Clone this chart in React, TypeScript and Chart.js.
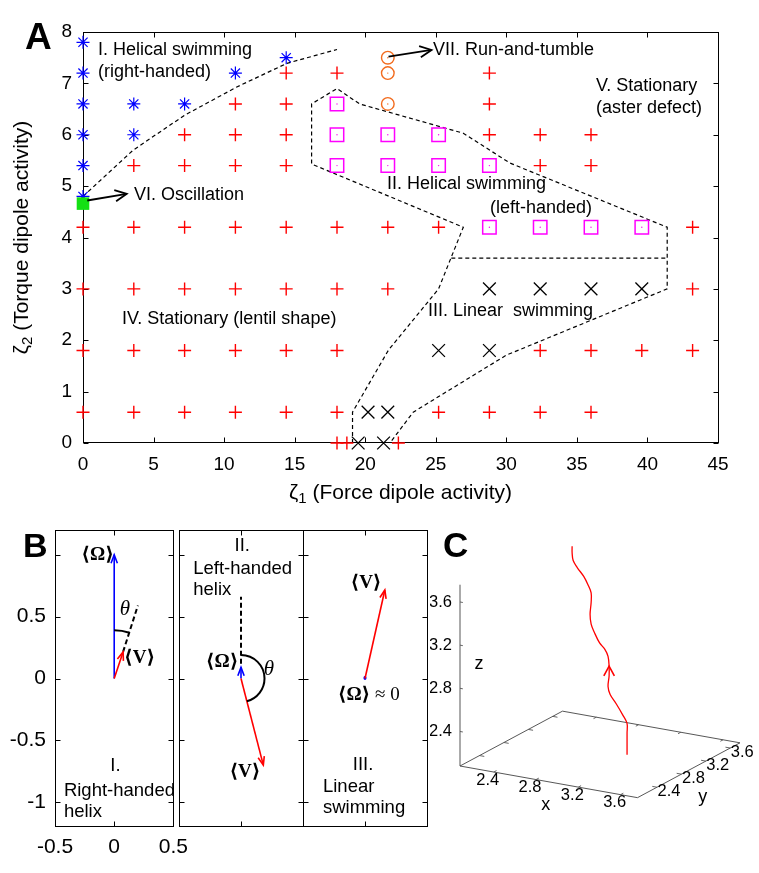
import React, { useEffect, useRef } from 'react';
import { Chart, registerables } from 'chart.js';

Chart.register(...registerables);

type Pt = [number, number];

const SANS = '"Liberation Sans", Arial, Helvetica, sans-serif';
const SERIF = '"Liberation Serif", "DejaVu Serif", "Times New Roman", serif';

/* ---------- A: phase diagram over force (ζ1) and torque (ζ2) dipole activity ---------- */
const zeta1Ticks = [0, 5, 10, 15, 20, 25, 30, 35, 40, 45];
const zeta2Ticks = [0, 1, 2, 3, 4, 5, 6, 7, 8];

// I. helical swimming (right-handed)
const helicalRightPts: Pt[] = [
  [0, 7.8], [0, 7.2], [0, 6.6], [0, 6.0], [0, 5.4], [0, 4.8],
  [3.6, 6.6], [3.6, 6.0], [7.2, 6.6], [10.8, 7.2], [14.4, 7.5],
];
// II. helical swimming (left-handed)
const helicalLeftPts: Pt[] = [
  [18, 6.6], [18, 6.0], [21.6, 6.0], [25.2, 6.0],
  [18, 5.4], [21.6, 5.4], [25.2, 5.4], [28.8, 5.4],
  [28.8, 4.2], [32.4, 4.2], [36, 4.2], [39.6, 4.2],
];
// III. linear swimming
const linearPts: Pt[] = [
  [28.8, 3.0], [32.4, 3.0], [36, 3.0], [39.6, 3.0],
  [25.2, 1.8], [28.8, 1.8], [20.2, 0.6], [21.6, 0.6], [19.5, 0], [21.3, 0],
];
// IV / V. stationary states
const stationaryPts: Pt[] = [
  [14.4, 7.2], [18, 7.2], [28.8, 7.2],
  [10.8, 6.6], [14.4, 6.6], [28.8, 6.6],
  [7.2, 6.0], [10.8, 6.0], [14.4, 6.0], [28.8, 6.0], [32.4, 6.0], [36, 6.0],
  [3.6, 5.4], [7.2, 5.4], [10.8, 5.4], [14.4, 5.4], [32.4, 5.4], [36, 5.4],
  [0, 4.2], [3.6, 4.2], [7.2, 4.2], [10.8, 4.2], [14.4, 4.2], [18, 4.2], [21.6, 4.2], [25.2, 4.2], [43.2, 4.2],
  [0, 3.0], [3.6, 3.0], [7.2, 3.0], [10.8, 3.0], [14.4, 3.0], [18, 3.0], [21.6, 3.0], [43.2, 3.0],
  [0, 1.8], [3.6, 1.8], [7.2, 1.8], [10.8, 1.8], [14.4, 1.8], [18, 1.8], [32.4, 1.8], [36, 1.8], [39.6, 1.8], [43.2, 1.8],
  [0, 0.6], [3.6, 0.6], [7.2, 0.6], [10.8, 0.6], [14.4, 0.6], [18, 0.6], [25.2, 0.6], [28.8, 0.6], [32.4, 0.6], [36, 0.6],
  [18, 0], [18.7, 0], [22.35, 0],
];
// VI. oscillation
const oscillationPts: Pt[] = [[0, 4.66]];
// VII. run-and-tumble
const runTumblePts: Pt[] = [[21.6, 7.5], [21.6, 7.2], [21.6, 6.6]];

// phase boundaries
const boundaryHelicalRight: Pt[] = [
  [0, 4.8], [3.55, 5.7], [7.2, 6.38], [10.9, 6.93], [14.45, 7.39], [18, 7.66],
];
const boundaryHelicalLeftLinear: Pt[] = [
  [19.1, 0], [19.1, 0.6], [21.65, 1.81], [25.2, 3.0], [26.95, 4.2], [16.2, 5.43], [16.2, 6.6],
  [18, 6.9], [19.6, 6.6], [26.95, 6.03], [30.25, 5.45], [41.4, 4.2], [41.4, 3.0],
  [30.0, 1.71], [23.4, 0.6], [21.75, 0],
];
const boundaryLeftVsLinear: Pt[] = [[26.1, 3.6], [41.4, 3.6]];

const phaseLabels = [
  { text: 'I. Helical swimming', x: 1.06, y: 7.65 },
  { text: '(right-handed)', x: 1.06, y: 7.22 },
  { text: 'VI. Oscillation', x: 3.61, y: 4.83 },
  { text: 'VII. Run-and-tumble', x: 24.8, y: 7.65 },
  { text: 'V. Stationary', x: 36.35, y: 6.95 },
  { text: '(aster defect)', x: 36.35, y: 6.52 },
  { text: 'II. Helical swimming', x: 21.54, y: 5.04 },
  { text: '(left-handed)', x: 28.84, y: 4.57 },
  { text: 'IV. Stationary (lentil shape)', x: 2.76, y: 2.41 },
  { text: 'III. Linear  swimming', x: 24.45, y: 2.57 },
];
const phaseArrows: { from: Pt; to: Pt }[] = [
  { from: [0.3, 4.72], to: [3.1, 4.85] },
  { from: [21.65, 7.52], to: [24.7, 7.65] },
];

/* ---------- B: mean angular velocity ⟨Ω⟩ and mean velocity ⟨V⟩ ---------- */
const modeTicksX = [-0.5, 0, 0.5];
const modeTicksY = [-1, -0.5, 0, 0.5, 1];

// I. right-handed helix
const omegaRH: Pt = [0, 1.0];
const velRH: Pt = [0.075, 0.215];
const guideRH: Pt[] = [[0.075, 0.215], [0.2, 0.59]];
const thetaRadiusRH = 0.39;
// II. left-handed helix
const omegaLH: Pt = [0, 0.09];
const velLH: Pt = [0.18, -0.7];
const guideLH: Pt[] = [[0, 0.12], [0, 0.66]];
const thetaRadiusLH = 0.19;
// III. linear swimming
const omegaLin: Pt = [0, 0.008];
const velLin: Pt = [0.16, 0.715];

/* ---------- C: swimmer trajectory in 3D ---------- */
const boxRange: Pt = [2.08, 3.76];
const xyzTicks = [2.4, 2.8, 3.2, 3.6];
const trajX = [3.13, 3.13, 3.13, 3.13, 3.09, 3.03, 2.97, 2.95, 2.96, 2.96, 2.95, 2.92, 2.87, 2.82, 2.79, 2.78, 2.79, 2.79, 2.76, 2.72, 2.66, 2.62, 2.61, 2.61];
const trajY = [3.0, 3.0, 3.0, 3.0, 3.0, 3.0, 3.0, 3.0, 3.0, 3.0, 3.0, 3.0, 3.0, 3.0, 3.0, 3.0, 3.0, 3.0, 3.0, 3.0, 3.0, 3.0, 3.0, 3.0];
const trajZ = [2.09, 2.2, 2.29, 2.38, 2.45, 2.54, 2.62, 2.69, 2.79, 2.88, 2.97, 3.03, 3.08, 3.17, 3.24, 3.33, 3.44, 3.53, 3.6, 3.67, 3.74, 3.8, 3.87, 3.93];
const trajArrowAt = 9;

// orthographic camera for panel C
const VIEW = { az: 30, el: 18, scale: 122, zStretch: 0.93 };
function project(x: number, y: number, z: number) {
  const a = (VIEW.az * Math.PI) / 180;
  const e = (VIEW.el * Math.PI) / 180;
  const s = VIEW.scale;
  const dx = x - boxRange[0], dy = y - boxRange[0], dz = z - boxRange[0];
  return {
    x: s * (Math.cos(a) * dx + Math.sin(a) * dy),
    y: s * (-Math.sin(a) * Math.sin(e) * dx + Math.cos(a) * Math.sin(e) * dy + VIEW.zStretch * Math.cos(e) * dz),
  };
}

/* ---------- helpers ---------- */
const toXY = (pts: Pt[]) => pts.map(([x, y]) => ({ x, y }));

function drawHead(ctx: CanvasRenderingContext2D, x0: number, y0: number, x1: number, y1: number, len: number, spread: number) {
  const a = Math.atan2(y1 - y0, x1 - x0);
  ctx.beginPath();
  ctx.moveTo(x1 - len * Math.cos(a - spread), y1 - len * Math.sin(a - spread));
  ctx.lineTo(x1, y1);
  ctx.lineTo(x1 - len * Math.cos(a + spread), y1 - len * Math.sin(a + spread));
  ctx.stroke();
}

type Run = { t: string; f: string };
function drawRuns(ctx: CanvasRenderingContext2D, runs: Run[], x: number, y: number, align: 'left' | 'center') {
  const widths = runs.map((r) => {
    ctx.font = r.f;
    return ctx.measureText(r.t).width;
  });
  const total = widths.reduce((s, w) => s + w, 0);
  let cx = align === 'center' ? x - total / 2 : x;
  ctx.textAlign = 'left';
  ctx.textBaseline = 'middle';
  runs.forEach((r, i) => {
    ctx.font = r.f;
    ctx.fillText(r.t, cx, y);
    cx += widths[i];
  });
}

function drawSubscripted(ctx: CanvasRenderingContext2D, base: string, sub: string, rest: string, size: number) {
  const main = `${size}px ${SANS}`;
  const small = `${Math.round(size * 0.7)}px ${SANS}`;
  ctx.font = main;
  const w1 = ctx.measureText(base).width;
  const w3 = ctx.measureText(rest).width;
  ctx.font = small;
  const w2 = ctx.measureText(sub).width;
  let x = -(w1 + w2 + w3) / 2;
  ctx.textAlign = 'left';
  ctx.textBaseline = 'middle';
  ctx.font = main;
  ctx.fillText(base, x, 0);
  x += w1;
  ctx.font = small;
  ctx.fillText(sub, x, size * 0.3);
  x += w2;
  ctx.font = main;
  ctx.fillText(rest, x, 0);
}

// box with inward ticks on all four sides
function frameTicks(xTicks: number[], yTicks: number[], len: number) {
  return {
    id: 'frameTicks',
    beforeDatasetsDraw(chart: any) {
      const { ctx, chartArea: a } = chart;
      const sx = chart.scales.x, sy = chart.scales.y;
      const L = Math.round(a.left) + 0.5, R = Math.round(a.right) + 0.5;
      const T = Math.round(a.top) + 0.5, B = Math.round(a.bottom) - 0.5;
      ctx.save();
      ctx.strokeStyle = '#000';
      ctx.lineWidth = 1;
      ctx.strokeRect(L, T, R - L, B - T);
      ctx.beginPath();
      for (const v of xTicks) {
        const px = Math.round(sx.getPixelForValue(v)) + 0.5;
        ctx.moveTo(px, B); ctx.lineTo(px, B - len);
        ctx.moveTo(px, T); ctx.lineTo(px, T + len);
      }
      for (const v of yTicks) {
        const py = Math.round(sy.getPixelForValue(v)) + 0.5;
        ctx.moveTo(L, py); ctx.lineTo(L + len, py);
        ctx.moveTo(R, py); ctx.lineTo(R - len, py);
      }
      ctx.stroke();
      ctx.restore();
    },
  };
}

const baseOptions = {
  responsive: false,
  maintainAspectRatio: false,
  animation: false as const,
  events: [] as any[],
  plugins: { legend: { display: false }, tooltip: { enabled: false } },
};

/* ---------- A chart ---------- */
function buildPhaseChart() {
  const markers = (pts: Pt[], style: string, radius: number, color: string, width: number, fill = 'rgba(0,0,0,0)') => ({
    data: toXY(pts),
    showLine: false,
    clip: false as const,
    pointStyle: style,
    pointRadius: radius,
    pointHoverRadius: radius,
    pointBorderColor: color,
    pointBackgroundColor: fill,
    pointBorderWidth: width,
  });
  const dots = (pts: Pt[], color: string) => markers(pts, 'circle', 0.7, color, 0, color);
  const dashed = (pts: Pt[]) => ({
    data: toXY(pts),
    showLine: true,
    clip: false as const,
    borderColor: '#000',
    borderWidth: 1.2,
    borderDash: [4, 3],
    pointRadius: 0,
    tension: 0,
  });

  const annotations = {
    id: 'phaseAnnotations',
    afterDatasetsDraw(chart: any) {
      const { ctx, chartArea: a } = chart;
      const sx = chart.scales.x, sy = chart.scales.y;
      ctx.save();
      ctx.fillStyle = '#000';
      ctx.font = `18px ${SANS}`;
      ctx.textAlign = 'left';
      ctx.textBaseline = 'middle';
      for (const l of phaseLabels) ctx.fillText(l.text, sx.getPixelForValue(l.x), sy.getPixelForValue(l.y));

      ctx.strokeStyle = '#000';
      ctx.lineWidth = 1.8;
      for (const ar of phaseArrows) {
        const x0 = sx.getPixelForValue(ar.from[0]), y0 = sy.getPixelForValue(ar.from[1]);
        const x1 = sx.getPixelForValue(ar.to[0]), y1 = sy.getPixelForValue(ar.to[1]);
        ctx.beginPath();
        ctx.moveTo(x0, y0);
        ctx.lineTo(x1, y1);
        ctx.stroke();
        drawHead(ctx, x0, y0, x1, y1, 13, 0.45);
      }

      ctx.save();
      ctx.translate((a.left + a.right) / 2, a.bottom + 50);
      drawSubscripted(ctx, 'ζ', '1', ' (Force dipole activity)', 21);
      ctx.restore();
      ctx.save();
      ctx.translate(22, (a.top + a.bottom) / 2);
      ctx.rotate(-Math.PI / 2);
      drawSubscripted(ctx, 'ζ', '2', ' (Torque dipole activity)', 21);
      ctx.restore();
      ctx.restore();
    },
  };

  return {
    type: 'scatter',
    data: {
      datasets: [
        markers(oscillationPts, 'rect', 8.9, '#14e014', 0, '#14e014'),
        markers(stationaryPts, 'cross', 6.5, '#ff0000', 1.4),
        markers(helicalRightPts, 'star', 6.5, '#0000ff', 1.2),
        markers(helicalLeftPts, 'rect', 9.5, '#ff00ff', 1.5),
        dots(helicalLeftPts, '#ff00ff'),
        markers(runTumblePts, 'circle', 6.3, '#f26b1d', 1.4),
        dots(runTumblePts, '#f26b1d'),
        markers(linearPts, 'crossRot', 9, '#000000', 1.3),
        dashed(boundaryHelicalRight),
        dashed(boundaryHelicalLeftLinear),
        dashed(boundaryLeftVsLinear),
      ],
    },
    options: {
      ...baseOptions,
      layout: { padding: { left: 0, right: 41, top: 32, bottom: 0 } },
      scales: {
        x: {
          type: 'linear',
          min: 0,
          max: 45,
          afterBuildTicks: (s: any) => { s.ticks = zeta1Ticks.map((value) => ({ value })); },
          afterFit: (s: any) => { s.height = 67; },
          grid: { display: false, drawTicks: false },
          border: { display: false },
          ticks: { font: { family: SANS, size: 19 }, color: '#000', padding: 10, maxRotation: 0, autoSkip: false },
        },
        y: {
          type: 'linear',
          min: 0,
          max: 8,
          afterBuildTicks: (s: any) => { s.ticks = zeta2Ticks.map((value) => ({ value })); },
          afterFit: (s: any) => { s.width = 83; },
          grid: { display: false, drawTicks: false },
          border: { display: false },
          ticks: { font: { family: SANS, size: 19 }, color: '#000', padding: 11, autoSkip: false },
        },
      },
    },
    plugins: [frameTicks(zeta1Ticks, zeta2Ticks, 5), annotations],
  };
}

/* ---------- B charts ---------- */
const LABEL_FONT = `18.5px ${SANS}`;
const VEC_FONT = `bold 19px ${SERIF}`;
const THETA_FONT = `italic 21px ${SERIF}`;
const PLAIN_SERIF = `19px ${SERIF}`;

type PanelText = { runs: Run[]; x: number; y: number; align: 'left' | 'center' };
type ModePanel = {
  omega: Pt;
  vel: Pt;
  guide?: Pt[];
  thetaRadius?: number;
  omegaArrow: boolean;
  texts: PanelText[];
};

const modePanels: ModePanel[] = [
  {
    omega: omegaRH, vel: velRH, guide: guideRH, thetaRadius: thetaRadiusRH, omegaArrow: true,
    texts: [
      { runs: [{ t: '⟨Ω⟩', f: VEC_FONT }], x: -0.14, y: 1.0, align: 'center' },
      { runs: [{ t: '⟨V⟩', f: VEC_FONT }], x: 0.215, y: 0.165, align: 'center' },
      { runs: [{ t: 'θ', f: THETA_FONT }], x: 0.09, y: 0.56, align: 'center' },
      { runs: [{ t: 'I.', f: LABEL_FONT }], x: 0.01, y: -0.71, align: 'center' },
      { runs: [{ t: 'Right-handed', f: LABEL_FONT }], x: -0.425, y: -0.905, align: 'left' },
      { runs: [{ t: 'helix', f: LABEL_FONT }], x: -0.425, y: -1.08, align: 'left' },
    ],
  },
  {
    omega: omegaLH, vel: velLH, guide: guideLH, thetaRadius: thetaRadiusLH, omegaArrow: true,
    texts: [
      { runs: [{ t: 'II.', f: LABEL_FONT }], x: 0.01, y: 1.07, align: 'center' },
      { runs: [{ t: 'Left-handed', f: LABEL_FONT }], x: -0.385, y: 0.887, align: 'left' },
      { runs: [{ t: 'helix', f: LABEL_FONT }], x: -0.385, y: 0.714, align: 'left' },
      { runs: [{ t: '⟨Ω⟩', f: VEC_FONT }], x: -0.153, y: 0.133, align: 'center' },
      { runs: [{ t: 'θ', f: THETA_FONT }], x: 0.226, y: 0.069, align: 'center' },
      { runs: [{ t: '⟨V⟩', f: VEC_FONT }], x: 0.032, y: -0.754, align: 'center' },
    ],
  },
  {
    omega: omegaLin, vel: velLin, omegaArrow: false,
    texts: [
      { runs: [{ t: '⟨V⟩', f: VEC_FONT }], x: 0.008, y: 0.77, align: 'center' },
      { runs: [{ t: '⟨Ω⟩', f: VEC_FONT }, { t: ' ≈ 0', f: PLAIN_SERIF }], x: 0.03, y: -0.133, align: 'center' },
      { runs: [{ t: 'III.', f: LABEL_FONT }], x: -0.016, y: -0.7, align: 'center' },
      { runs: [{ t: 'Linear', f: LABEL_FONT }], x: -0.339, y: -0.875, align: 'left' },
      { runs: [{ t: 'swimming', f: LABEL_FONT }], x: -0.339, y: -1.044, align: 'left' },
    ],
  },
];

function buildModeChart(p: ModePanel, withAxes: boolean) {
  const vec = (tip: Pt, color: string, arrow: boolean, dotRadius = 0) => ({
    data: toXY([[0, 0], tip]),
    showLine: true,
    clip: false as const,
    borderColor: color,
    borderWidth: 1.6,
    pointRadius: dotRadius,
    pointBackgroundColor: color,
    pointBorderWidth: 0,
    arrow,
  });
  const datasets: any[] = [vec(p.vel, '#ff0000', true), vec(p.omega, '#0000ff', p.omegaArrow, p.omegaArrow ? 0 : 1.4)];
  if (p.guide) {
    datasets.push({
      data: toXY(p.guide),
      showLine: true,
      clip: false as const,
      borderColor: '#000',
      borderWidth: 2,
      borderDash: [5, 3],
      pointRadius: 0,
    });
  }

  const vectorsAndText = {
    id: 'vectorsAndText',
    afterDatasetsDraw(chart: any) {
      const { ctx } = chart;
      const sx = chart.scales.x, sy = chart.scales.y;
      ctx.save();
      chart.data.datasets.forEach((ds: any, i: number) => {
        if (!ds.arrow) return;
        const pts = chart.getDatasetMeta(i).data;
        const a = pts[0], b = pts[pts.length - 1];
        ctx.strokeStyle = ds.borderColor;
        ctx.lineWidth = 1.6;
        drawHead(ctx, a.x, a.y, b.x, b.y, 9, 0.36);
      });
      if (p.thetaRadius) {
        const cx = sx.getPixelForValue(0), cy = sy.getPixelForValue(0);
        const r = sy.getPixelForValue(0) - sy.getPixelForValue(p.thetaRadius);
        const ang = (v: Pt) => Math.atan2(sy.getPixelForValue(v[1]) - cy, sx.getPixelForValue(v[0]) - cx);
        ctx.strokeStyle = '#000';
        ctx.lineWidth = 2;
        ctx.beginPath();
        ctx.arc(cx, cy, r, ang(p.omega), ang(p.vel), false);
        ctx.stroke();
      }
      ctx.fillStyle = '#000';
      for (const t of p.texts) drawRuns(ctx, t.runs, sx.getPixelForValue(t.x), sy.getPixelForValue(t.y), t.align);
      ctx.restore();
    },
  };

  const tickFont = { family: SANS, size: 21 };
  return {
    type: 'scatter',
    data: { datasets },
    options: {
      ...baseOptions,
      layout: { padding: withAxes ? { left: 0, right: 17, top: 30, bottom: 0 } : { left: 10, right: 10, top: 30, bottom: 46 } },
      scales: {
        x: {
          type: 'linear',
          min: -0.5,
          max: 0.5,
          display: withAxes,
          afterBuildTicks: (s: any) => { s.ticks = modeTicksX.map((value) => ({ value })); },
          afterFit: (s: any) => { if (withAxes) s.height = 46; },
          grid: { display: false, drawTicks: false },
          border: { display: false },
          ticks: { font: tickFont, color: '#000', padding: 8, maxRotation: 0, autoSkip: false },
        },
        y: {
          type: 'linear',
          min: -1.2,
          max: 1.2,
          display: withAxes,
          afterBuildTicks: (s: any) => { s.ticks = modeTicksY.map((value) => ({ value })); },
          afterFit: (s: any) => { if (withAxes) s.width = 55; },
          grid: { display: false, drawTicks: false },
          border: { display: false },
          ticks: {
            font: tickFont,
            color: '#000',
            padding: 9,
            autoSkip: false,
            callback: (v: any) => (Number(v) === 1 ? '' : String(v)),
          },
        },
      },
    },
    plugins: [frameTicks(modeTicksX, modeTicksY, 5), vectorsAndText],
  };
}

/* ---------- C chart ---------- */
function buildTrajectoryChart() {
  const [lo, hi] = boxRange;
  const P3 = (x: number, y: number, z: number) => project(x, y, z);
  const boxEdges = [P3(lo, lo, lo), P3(hi, lo, lo), P3(hi, hi, lo), P3(lo, hi, lo), P3(lo, lo, lo)];
  const zAxis = [P3(lo, lo, lo), P3(lo, lo, hi)];
  const path = trajX.map((x, i) => P3(x, trajY[i], trajZ[i]));

  const axesText = {
    id: 'axesText',
    afterDatasetsDraw(chart: any) {
      const { ctx } = chart;
      const sx = chart.scales.x, sy = chart.scales.y;
      const P = (x: number, y: number, z: number): Pt => {
        const p = project(x, y, z);
        return [sx.getPixelForValue(p.x), sy.getPixelForValue(p.y)];
      };
      const seg = (a: Pt, b: Pt) => {
        ctx.beginPath();
        ctx.moveTo(a[0], a[1]);
        ctx.lineTo(b[0], b[1]);
        ctx.stroke();
      };
      ctx.save();
      ctx.strokeStyle = '#555';
      ctx.lineWidth = 0.9;
      const t = 0.045;
      for (const v of xyzTicks) {
        seg(P(v, lo, lo), P(v, lo + t, lo));
        seg(P(v, hi, lo), P(v, hi - t, lo));
        seg(P(hi, v, lo), P(hi - t, v, lo));
        seg(P(lo, v, lo), P(lo + t, v, lo));
        seg(P(lo, lo, v), P(lo + t * 0.6, lo, v));
      }
      ctx.fillStyle = '#000';
      ctx.font = `16.5px ${SANS}`;
      ctx.textBaseline = 'middle';
      ctx.textAlign = 'center';
      for (const v of xyzTicks) {
        const [px, py] = P(v, lo, lo);
        ctx.fillText(v.toFixed(1), px - 6, py + 8);
      }
      for (const v of xyzTicks) {
        const [px, py] = P(hi, v, lo);
        ctx.fillText(v.toFixed(1), px + 12, py + 4);
      }
      ctx.textAlign = 'right';
      for (const v of xyzTicks) {
        const [px, py] = P(lo, lo, v);
        ctx.fillText(v.toFixed(1), px - 8, py);
      }
      ctx.font = `18px ${SANS}`;
      ctx.textAlign = 'center';
      const mid = (lo + hi) / 2;
      let q = P(mid, lo, lo);
      ctx.fillText('x', q[0] - 3, q[1] + 23);
      q = P(hi, mid, lo);
      ctx.fillText('y', q[0] + 14, q[1] + 27);
      q = P(lo, lo, 3.0);
      ctx.fillText('z', q[0] + 19, q[1] - 3);

      // direction of motion along the trajectory
      const meta = chart.getDatasetMeta(0).data;
      const a = meta[trajArrowAt - 1], b = meta[trajArrowAt];
      ctx.strokeStyle = '#ff0000';
      ctx.lineWidth = 1.6;
      drawHead(ctx, a.x, a.y, b.x, b.y, 11, 0.5);
      ctx.restore();
    },
  };

  return {
    type: 'scatter',
    data: {
      datasets: [
        { data: path, showLine: true, clip: false as const, borderColor: '#ff0000', borderWidth: 1.3, pointRadius: 0, tension: 0.35 },
        { data: boxEdges, showLine: true, clip: false as const, borderColor: '#444', borderWidth: 0.9, pointRadius: 0 },
        { data: zAxis, showLine: true, clip: false as const, borderColor: '#444', borderWidth: 0.9, pointRadius: 0 },
      ],
    },
    options: {
      ...baseOptions,
      layout: { padding: 0 },
      scales: {
        x: { type: 'linear', min: -30, max: 299, display: false },
        y: { type: 'linear', min: -94, max: 246, display: false },
      },
    },
    plugins: [axesText],
  };
}

/* ---------- page ---------- */
function ChartCanvas(props: { left: number; top: number; width: number; height: number; build: () => any }) {
  const ref = useRef<HTMLCanvasElement | null>(null);
  useEffect(() => {
    if (!ref.current) return;
    const chart = new Chart(ref.current, props.build());
    return () => chart.destroy();
  }, []);
  const { left, top, width, height } = props;
  return (
    <canvas
      ref={ref}
      width={width}
      height={height}
      style={{ position: 'absolute', left, top, width, height }}
    />
  );
}

const panelLetter = (text: string, left: number, top: number, size: number) => (
  <div
    style={{
      position: 'absolute',
      left,
      top,
      font: `bold ${size}px ${SANS}`,
      lineHeight: 1,
      color: '#000',
    }}
  >
    {text}
  </div>
);

export default function App() {
  return (
    <div style={{ position: 'absolute', left: 0, top: 0, width: 759, height: 873, background: '#fff', overflow: 'hidden' }}>
      <ChartCanvas left={0} top={0} width={759} height={510} build={buildPhaseChart} />
      <ChartCanvas left={0} top={500} width={196} height={373} build={() => buildModeChart(modePanels[0], true)} />
      <ChartCanvas left={169} top={500} width={144} height={373} build={() => buildModeChart(modePanels[1], false)} />
      <ChartCanvas left={293} top={500} width={144} height={373} build={() => buildModeChart(modePanels[2], false)} />
      <ChartCanvas left={430} top={520} width={329} height={340} build={buildTrajectoryChart} />
      {panelLetter('A', 25, 18, 37)}
      {panelLetter('B', 23, 528, 34)}
      {panelLetter('C', 443, 527, 35)}
    </div>
  );
}
